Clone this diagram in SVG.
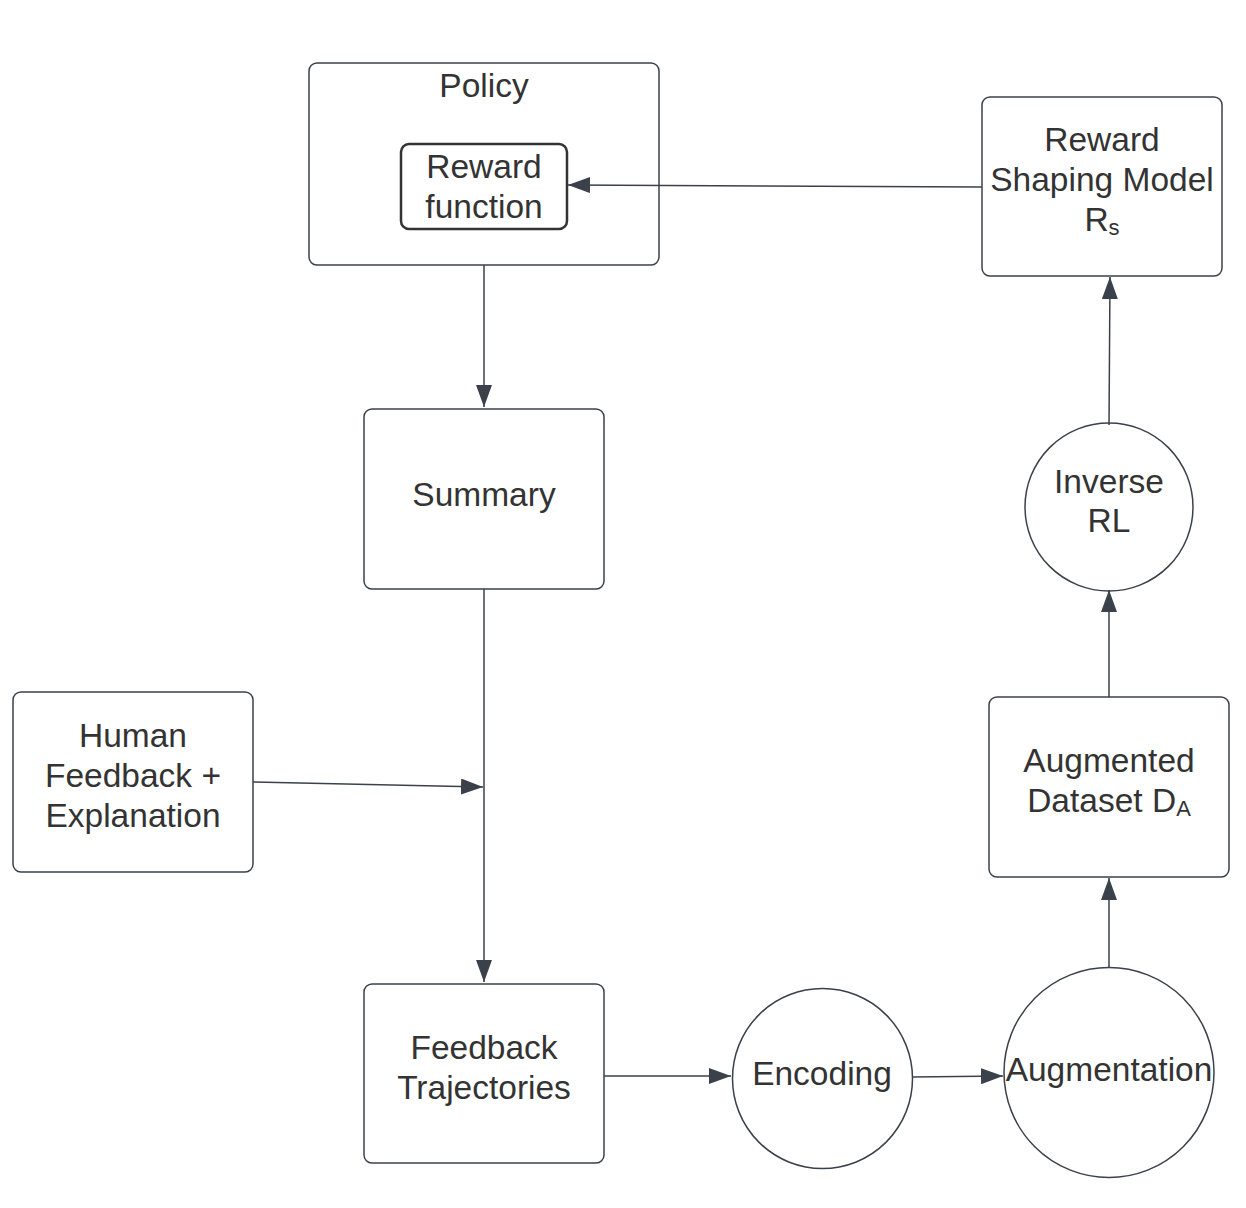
<svg xmlns="http://www.w3.org/2000/svg" width="1246" height="1208" viewBox="0 0 1246 1208">
<style>
.n{fill:#fff;stroke:#3a414a;stroke-width:1.5}
.t{font-family:"Liberation Sans",Arial,sans-serif;font-size:33.5px;fill:#333;text-anchor:middle}
.c{fill:none;stroke:#3a414a;stroke-width:1.5}
</style>
<defs>
<marker id="ah" markerUnits="userSpaceOnUse" markerWidth="23" markerHeight="16" refX="22" refY="8" orient="auto">
<path d="M0,0 L22,8 L0,16 z" fill="#3a414a"/>
</marker>
</defs>
<rect width="1246" height="1208" fill="#fff"/>
<g id="policy">
<rect class="n" x="309" y="63" width="350" height="202" rx="8"/>
<text class="t" x="484" y="97">Policy</text>
</g>
<g id="reward-function">
<rect x="401" y="144" width="166" height="85" rx="8" fill="#fff" stroke="#333" stroke-width="2.5"/>
<text class="t" x="484" y="178">Reward</text>
<text class="t" x="484" y="218">function</text>
</g>
<g id="reward-shaping">
<rect class="n" x="982" y="97" width="240" height="179" rx="8"/>
<text class="t" x="1102" y="151">Reward</text>
<text class="t" x="1102" y="191">Shaping Model</text>
<text class="t" x="1102" y="231">R<tspan font-size="22" dy="4">s</tspan></text>
</g>
<g id="summary">
<rect class="n" x="364" y="409" width="240" height="180" rx="8"/>
<text class="t" x="484" y="506">Summary</text>
</g>
<g id="human-feedback">
<rect class="n" x="13" y="692" width="240" height="180" rx="8"/>
<text class="t" x="133" y="747">Human</text>
<text class="t" x="133" y="787">Feedback +</text>
<text class="t" x="133" y="827">Explanation</text>
</g>
<g id="feedback-trajectories">
<rect class="n" x="364" y="984" width="240" height="179" rx="8"/>
<text class="t" x="484" y="1059">Feedback</text>
<text class="t" x="484" y="1099">Trajectories</text>
</g>
<g id="encoding">
<circle class="n" cx="822.5" cy="1078.5" r="90"/>
<text class="t" x="822" y="1085">Encoding</text>
</g>
<g id="augmentation">
<circle class="n" cx="1109" cy="1072.5" r="105"/>
<text class="t" x="1109" y="1081">Augmentation</text>
</g>
<g id="augmented-dataset">
<rect class="n" x="989" y="697" width="240" height="180" rx="8"/>
<text class="t" x="1109" y="772">Augmented</text>
<text class="t" x="1109" y="812">Dataset D<tspan font-size="22" dy="4">A</tspan></text>
</g>
<g id="inverse-rl">
<circle class="n" cx="1109" cy="507" r="84"/>
<text class="t" x="1109" y="493">Inverse</text>
<text class="t" x="1109" y="532">RL</text>
</g>
<g id="connectors">
<line class="c" x1="484" y1="265" x2="484" y2="407" marker-end="url(#ah)"/>
<line class="c" x1="484" y1="589" x2="484" y2="982" marker-end="url(#ah)"/>
<line class="c" x1="253" y1="782" x2="483" y2="787" marker-end="url(#ah)"/>
<line class="c" x1="604" y1="1076" x2="731" y2="1076" marker-end="url(#ah)"/>
<line class="c" x1="913" y1="1077" x2="1003" y2="1076" marker-end="url(#ah)"/>
<line class="c" x1="1109" y1="967" x2="1109" y2="878" marker-end="url(#ah)"/>
<line class="c" x1="1109" y1="697" x2="1109" y2="590" marker-end="url(#ah)"/>
<line class="c" x1="1109" y1="425" x2="1110" y2="277" marker-end="url(#ah)"/>
<line class="c" x1="982" y1="187" x2="568" y2="185" marker-end="url(#ah)"/>
</g>
</svg>
